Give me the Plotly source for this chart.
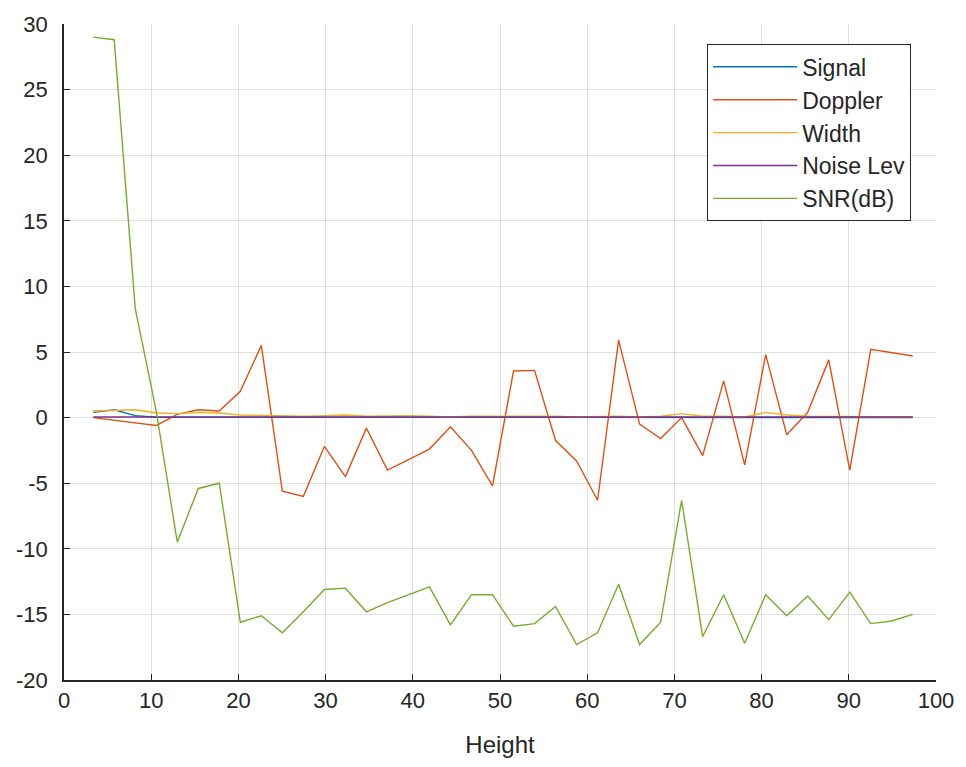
import plotly.graph_objects as go

height = [3.35, 5.76, 8.17, 10.58, 12.99, 15.40, 17.81, 20.22, 22.63, 25.04,
          27.45, 29.86, 32.27, 34.68, 37.09, 39.50, 41.91, 44.32, 46.73, 49.14,
          51.55, 53.96, 56.37, 58.78, 61.19, 63.60, 66.01, 68.42, 70.83, 73.24,
          75.65, 78.06, 80.47, 82.88, 85.29, 87.70, 90.11, 92.52, 94.93, 97.34]

signal = [0.40, 0.60, 0.15, 0.03, 0.02, 0.02, 0.01, 0.01, 0.01, 0.01,
          0.01, 0.01, 0.01, 0.01, 0.01, 0.01, 0.01, 0.01, 0.01, 0.01,
          0.01, 0.01, 0.01, 0.01, 0.01, 0.01, 0.01, 0.01, 0.01, 0.01,
          0.01, 0.01, 0.01, 0.01, 0.01, 0.01, 0.01, 0.01, 0.01, 0.01]

doppler = [0.0, -0.2, -0.4, -0.6, 0.25, 0.6, 0.5, 2.0, 5.5, -5.6,
           -6.0, -2.2, -4.5, -0.8, -4.0, -3.2, -2.4, -0.7, -2.5, -5.2,
           3.55, 3.6, -1.75, -3.3, -6.3, 5.9, -0.5, -1.6, 0.0, -2.9,
           2.8, -3.6, 4.8, -1.3, 0.4, 4.4, -4.0, 5.2, 4.95, 4.7]

width = [0.5, 0.55, 0.6, 0.35, 0.3, 0.4, 0.35, 0.2, 0.15, 0.1,
         0.1, 0.15, 0.2, 0.1, 0.15, 0.15, 0.1, 0.05, 0.1, 0.1,
         0.15, 0.1, 0.1, 0.05, 0.1, 0.1, 0.05, 0.1, 0.3, 0.1,
         0.1, 0.05, 0.4, 0.2, 0.1, 0.1, 0.05, 0.05, 0.05, 0.05]

noise = [0.05] * 40

snr = [29.0, 28.8, 8.3, 0.5, -9.5, -5.4, -5.0, -15.6, -15.1, -16.4,
       -14.8, -13.1, -13.0, -14.8, -14.1, -13.5, -12.9, -15.8, -13.5, -13.5,
       -15.9, -15.7, -14.4, -17.3, -16.4, -12.7, -17.3, -15.6, -6.3, -16.7,
       -13.5, -17.2, -13.5, -15.1, -13.6, -15.4, -13.3, -15.7, -15.5, -15.0]

names = ["Signal", "Doppler", "Width", "Noise Lev", "SNR(dB)"]
series = [signal, doppler, width, noise, snr]
colors = ["#0072BD", "#D95319", "#EDB120", "#7E2F8E", "#77AC30"]

x_ticks = [0, 10, 20, 30, 40, 50, 60, 70, 80, 90, 100]
x_labels = ["0", "10", "20", "30", "40", "50", "60", "70", "80", "90", "100"]
y_ticks = [-20, -15, -10, -5, 0, 5, 10, 15, 20, 25, 30]
y_labels = ["-20", "-15", "-10", "-5", "0", "5", "10", "15", "20", "25", "30"]

font = "Liberation Sans, Arial, sans-serif"
txt = "#262626"

fig = go.Figure()
for i, (n, s, c) in enumerate(zip(names, series, colors)):
    fig.add_trace(go.Scatter(x=height, y=s, mode="lines", name=n,
                             line=dict(color=c, width=1.4),
                             legendgroup=f"g{i}"))

fig.update_layout(
    width=966, height=767,
    margin=dict(l=64, r=28, t=19, b=87),
    paper_bgcolor="white", plot_bgcolor="white",
    font=dict(family=font, size=22, color=txt),
    showlegend=True,
    legend=dict(x=0.9715, y=0.969, xanchor="right", yanchor="top",
                bgcolor="white", bordercolor="#262626", borderwidth=1,
                font=dict(family=font, size=23, color=txt),
                itemwidth=84, traceorder="grouped", tracegroupgap=0),
)
fig.update_xaxes(range=[0, 100], tickvals=x_ticks, ticktext=x_labels,
                 showgrid=True, gridcolor="#dfdfdf", gridwidth=1,
                 showline=True, linecolor="#262626", linewidth=1.5,
                 ticks="inside", ticklen=6, tickcolor="#262626",
                 zeroline=False, mirror=False,
                 title=dict(text="Height", font=dict(size=24, color=txt), standoff=24))
fig.update_yaxes(range=[-20, 30], tickvals=y_ticks, ticktext=y_labels,
                 showgrid=True, gridcolor="#dfdfdf", gridwidth=1,
                 showline=True, linecolor="#262626", linewidth=1.5,
                 ticks="inside", ticklen=6, tickcolor="#262626",
                 zeroline=False, mirror=False, ticklabelstandoff=10)

fig.write_html("out.html")
